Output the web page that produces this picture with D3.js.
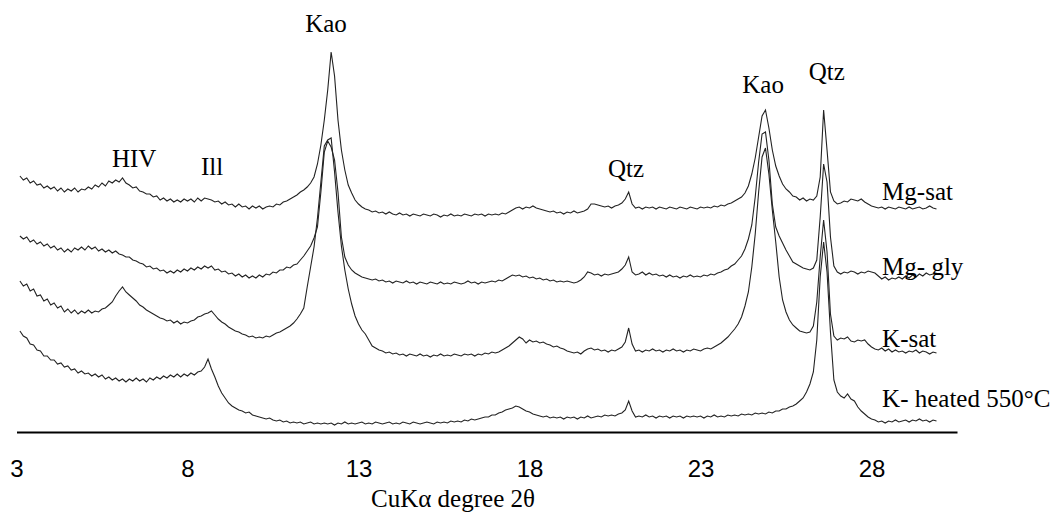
<!DOCTYPE html>
<html><head><meta charset="utf-8">
<script src="https://cdn.jsdelivr.net/npm/d3@7"></script>
<style>html,body{margin:0;padding:0;background:#fff;} svg{display:block}</style>
</head><body>
<svg id="chart" width="1057" height="529"></svg>
<script>
// 2θ grid of the scans (degrees)
const twoThetaStart = 3.1;
const twoThetaStep = 0.1;
const tickValues = [3, 8, 13, 18, 23, 28];
const seriesNames = ["Mg-sat", "Mg- gly", "K-sat", "K- heated 550°C"];

// stacked intensities (arbitrary units, offset traces as drawn)
const mgSat = [
256,252,254,249,251,247,248,244,246,
243,245,241,244,240,243,241,244,240,243,
242,245,243,247,245,249,246,251,249,252,
250,254,249,247,244,245,241,240,238,238,
235,236,232,234,231,233,230,232,230,233,
231,233,230,234,231,234,233,232,230,231,
228,230,227,228,225,228,225,226,223,226,
224,226,223,225,226,225,228,227,230,231,
233,235,237,240,242,245,249,255,268,287,
312,342,380,356,312,282,262,247,239,232,
228,225,223,222,220,221,219,220,218,220,
218,217,219,217,218,216,218,217,216,218,
217,216,218,217,215,217,216,218,216,217,
216,218,217,216,218,217,218,216,218,217,
218,217,219,218,220,222,224,225,223,225,
224,226,224,223,222,221,220,221,219,220,
218,220,219,221,219,220,221,223,228,228,
227,226,225,226,224,226,227,229,233,240,
228,224,225,223,225,224,225,223,225,224,
223,225,224,223,225,224,223,225,224,223,
225,224,225,224,226,225,227,226,228,229,
231,233,235,239,246,258,274,295,316,322,
304,282,266,256,248,243,240,236,235,232,
234,231,233,232,236,255,322,282,240,231,
228,229,231,230,233,232,231,233,230,228,
226,225,224,225,223,225,224,223,225,224,
223,225,223,224,225,223,224,226,224,223
];
const mgGly = [
196,193,195,190,192,188,190,186,188,
184,186,182,184,180,183,180,184,182,185,
182,186,183,185,181,183,180,182,179,181,
178,177,175,175,172,171,169,168,165,166,
163,164,161,162,159,161,159,162,160,163,
161,164,162,165,163,166,164,166,162,163,
160,161,158,159,156,158,155,157,154,156,
154,157,155,158,157,160,159,162,162,165,
164,167,168,172,176,181,186,194,205,240,
280,291,285,272,240,195,175,167,162,159,
157,155,154,153,152,153,151,152,150,151,
149,151,150,149,151,149,150,148,150,149,
148,150,149,148,150,148,149,148,150,149,
148,149,151,149,150,148,150,149,150,151,
150,152,151,153,155,157,156,157,155,156,
154,155,153,154,152,153,151,152,150,151,
150,151,150,149,150,152,155,160,159,157,
158,156,158,157,158,159,160,163,167,175,
160,157,158,160,157,159,157,158,156,157,
155,157,155,156,154,156,155,157,155,156,
155,157,156,158,157,159,160,162,163,166,
168,172,176,183,193,207,235,270,298,300,
272,228,205,196,189,182,176,170,168,166,
164,163,162,164,172,215,268,250,195,166,
160,158,160,159,161,160,158,160,159,161,
160,159,156,153,155,152,154,153,155,153,
156,154,157,155,158,156,159,157,158,159
];
const kSat = [
151,146,148,141,143,136,137,131,133,
127,129,124,126,120,123,119,122,118,121,
119,122,119,121,120,123,124,127,130,136,
141,145,140,137,134,131,127,125,122,120,
118,116,114,113,111,112,109,111,108,110,
109,111,112,115,116,118,119,121,117,113,
110,108,105,103,101,100,98,97,95,96,
94,95,94,96,95,97,99,100,102,104,
106,109,113,118,124,145,165,185,214,250,
286,292,294,260,220,186,162,143,128,116,
108,102,98,92,86,84,82,81,79,80,
78,79,77,78,76,78,77,76,78,76,
77,75,77,76,78,76,77,76,78,77,
76,78,77,78,76,78,77,79,78,80,
79,80,82,84,86,89,92,95,93,89,
92,90,91,89,90,88,87,85,86,84,
83,81,80,79,80,78,81,83,84,82,
83,81,82,80,82,81,83,85,90,104,
88,81,82,80,82,81,83,81,82,80,
82,81,83,81,82,80,82,81,83,82,
81,83,84,83,85,87,89,92,95,99,
103,108,115,126,140,165,198,240,275,284,
258,222,190,155,132,120,112,107,104,101,
100,99,100,106,130,175,212,180,118,96,
92,94,93,95,91,90,92,91,92,88,
85,83,82,84,81,83,80,82,80,81,
79,81,80,82,79,81,80,78,80,79
];
const kHeated = [
101,96,94,88,87,82,81,76,76,
72,72,68,69,65,66,62,63,59,61,
58,59,56,58,55,57,53,55,52,54,
51,53,50,53,51,54,51,53,50,54,
52,55,53,56,54,57,55,58,55,58,
56,59,57,60,61,65,73,63,55,46,
39,34,29,26,24,22,21,19,20,17,
16,15,14,13,14,12,11,12,10,11,
9,10,9,10,8,9,10,8,9,8,
9,8,9,7,9,8,10,8,9,8,
9,10,8,9,8,10,9,8,9,10,
8,9,8,10,9,8,10,9,8,9,
10,9,8,10,9,10,9,11,10,11,
10,12,11,13,12,13,14,15,15,17,
17,19,20,22,23,24,26,25,23,21,
20,18,17,16,15,16,14,15,14,15,
13,15,14,15,13,15,14,16,14,15,
16,15,17,16,17,16,18,19,22,31,
21,15,16,15,17,15,16,14,16,15,
16,14,16,15,16,14,16,15,16,15,
16,14,16,15,17,15,16,15,17,16,
17,16,18,17,18,17,19,18,19,18,
20,19,21,21,23,23,25,26,28,31,
34,40,48,60,92,155,190,160,100,52,
40,36,34,38,33,31,25,21,18,15,
13,12,10,11,9,11,10,12,10,11,
12,10,12,11,13,11,12,10,12,11
];

// peak annotations (2θ, intensity level of label baseline)
const peakNames = ["HIV", "Ill", "Kao", "Qtz", "Kao", "Qtz"];
const peakTheta = [6.44, 8.72, 12.05, 20.82, 24.83, 26.69];
const peakLabelLevel = [265, 257, 400, 255, 339, 352];
const seriesLabelTheta = 28.31;
const seriesLabelLevel = [232, 157, 85, 25];

const allSeries = [mgSat, mgGly, kSat, kHeated];

const svg = d3.select("#chart");
const serif = "'Liberation Serif','Times New Roman',Times,serif";
const sans = "'Liberation Sans',Arial,Helvetica,sans-serif";

const x = d3.scaleLinear().domain([3, 30.5]).range([16.5, 957]);
const y = d3.scaleLinear().domain([0, 432]).range([432, 0]);

const line = d3.line()
  .x((d, i) => x(twoThetaStart + i * twoThetaStep))
  .y(d => y(d));

svg.append("g").selectAll("path")
  .data(allSeries)
  .join("path")
  .attr("d", line)
  .attr("fill", "none")
  .attr("stroke", "#222")
  .attr("stroke-width", 1.1)
  .attr("stroke-linejoin", "miter");

const axis = svg.append("g")
  .attr("transform", `translate(0,${y(0)})`)
  .call(d3.axisBottom(x).tickValues(tickValues).tickSize(0).tickSizeOuter(0).tickFormat(d3.format("d")));
axis.select(".domain").attr("stroke", "#000").attr("stroke-width", 2);
axis.selectAll("text")
  .attr("y", 45).attr("dy", null)
  .attr("font-family", sans).attr("font-size", 24).attr("fill", "#000");
axis.attr("font-family", null).attr("font-size", null);

svg.append("text")
  .attr("x", 453).attr("y", 507)
  .attr("text-anchor", "middle")
  .attr("font-family", serif).attr("font-size", 25)
  .text("CuKα degree 2θ");

svg.append("g").selectAll("text")
  .data(peakNames)
  .join("text")
  .attr("x", (d, i) => x(peakTheta[i]))
  .attr("y", (d, i) => y(peakLabelLevel[i]))
  .attr("text-anchor", "middle")
  .attr("font-family", serif).attr("font-size", 25)
  .text(d => d);

svg.append("g").selectAll("text")
  .data(seriesNames)
  .join("text")
  .attr("x", x(seriesLabelTheta))
  .attr("y", (d, i) => y(seriesLabelLevel[i]))
  .attr("font-family", serif).attr("font-size", 25)
  .text(d => d);
</script>
</body></html>
